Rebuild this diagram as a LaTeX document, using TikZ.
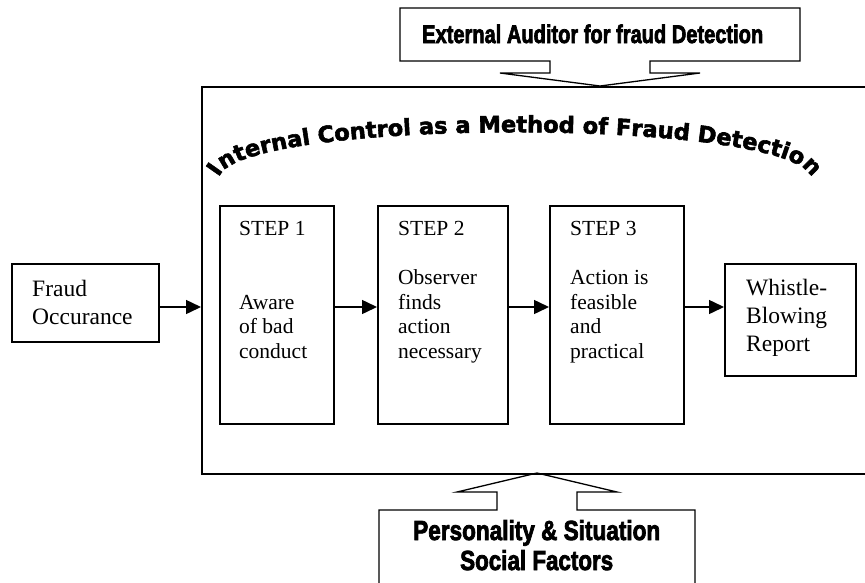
\documentclass[tikz,border=0pt]{standalone}
\usepackage{fontspec}
\usepackage{graphicx}
\setmainfont{Liberation Serif}
\newfontfamily\heavyfont[FakeBold=3]{Liberation Sans Bold}
\newfontfamily\arcfont[FakeBold=2.5]{DejaVu Sans Bold}
\usetikzlibrary{arrows.meta,decorations.text}
\begin{document}
\begin{tikzpicture}[x=1pt,y=-1pt,
  box/.style={draw,line width=1.6pt,inner sep=0pt,anchor=north west},
  arr/.style={line width=1.5pt,-{Triangle[length=15pt,width=14pt]}},
  txt/.style={font=\fontsize{21.5}{24.5}\selectfont,anchor=base west,align=left,inner sep=0pt},
  bigtxt/.style={font=\fontsize{23.5}{28}\selectfont,anchor=base west,align=left,inner sep=0pt},
  callout/.style={draw,line width=1.3pt,line join=miter},
  heavy/.style={anchor=base west,inner sep=0pt}]
\useasboundingbox (0,0) rectangle (865,582);
\clip (0,0) rectangle (865,582);

% main box (right edge lies outside the picture)
\node[box,minimum width=720pt,minimum height=387pt] (main) at (201,86) {};

% boxes
\node[box,minimum width=147pt,minimum height=78pt] (fraud) at (11,263) {};
\node[box,minimum width=114pt,minimum height=218pt] (s1) at (219,205) {};
\node[box,minimum width=130pt,minimum height=218pt] (s2) at (377,205) {};
\node[box,minimum width=134pt,minimum height=218pt] (s3) at (549,205) {};
\node[box,minimum width=131pt,minimum height=112pt] (wb) at (724,263) {};

% texts
\node[bigtxt] (fraudtxt) at (32,324) {Fraud\\Occurance};
\node[txt] (l1) at (239,235) {STEP 1};
\node[txt] (l2) at (398,235) {STEP 2};
\node[txt] (l3) at (570,235) {STEP 3};
\node[txt] (b1) at (239,358) {Aware\\of bad\\conduct};
\node[txt] (b2) at (398,358) {Observer\\finds\\action\\necessary};
\node[txt] (b3) at (570,358) {Action is\\feasible\\and\\practical};
\node[bigtxt] (wbtxt) at (746,351) {Whistle-\\Blowing\\Report};

% arrows
\coordinate (ay) at (0,307);
\draw[arr] (fraud.east |- ay) -- (main.west |- ay);
\draw[arr] (s1.east |- ay) -- (s2.west |- ay);
\draw[arr] (s2.east |- ay) -- (s3.west |- ay);
\draw[arr] (s3.east |- ay) -- (wb.west |- ay);

% top callout
\draw[callout,fill=white] (400,8) -- (800,8) -- (800,61) -- (650,61) -- (650,73) -- (700,73)
  -- (600,86) -- (500,73) -- (550,73) -- (550,61) -- (400,61) -- cycle;
\node[heavy] (ext) at (422,43) {\resizebox{341pt}{18.5pt}{\heavyfont External Auditor for fraud Detection}};

% bottom callout
\draw[callout] (379,600) -- (379,510) -- (497,510) -- (497,492) -- (457,492) -- (537,473)
  -- (617,492) -- (577,492) -- (577,510) -- (695,510) -- (695,600);
\node[heavy] (pers) at (413,540) {\resizebox{247pt}{20pt}{\heavyfont Personality \& Situation}};
\node[heavy] (soc) at (460,570) {\resizebox{153pt}{20pt}{\heavyfont Social Factors}};

% arched title
\path[decorate,decoration={text along path,
  text={|\arcfont\fontsize{22.5}{22.5}\selectfont|Internal Control as a Method of Fraud Detection},
  text align=center}]
  (220,175) .. controls (252,118) and (778,118) .. (810,175);
\end{tikzpicture}
\end{document}
